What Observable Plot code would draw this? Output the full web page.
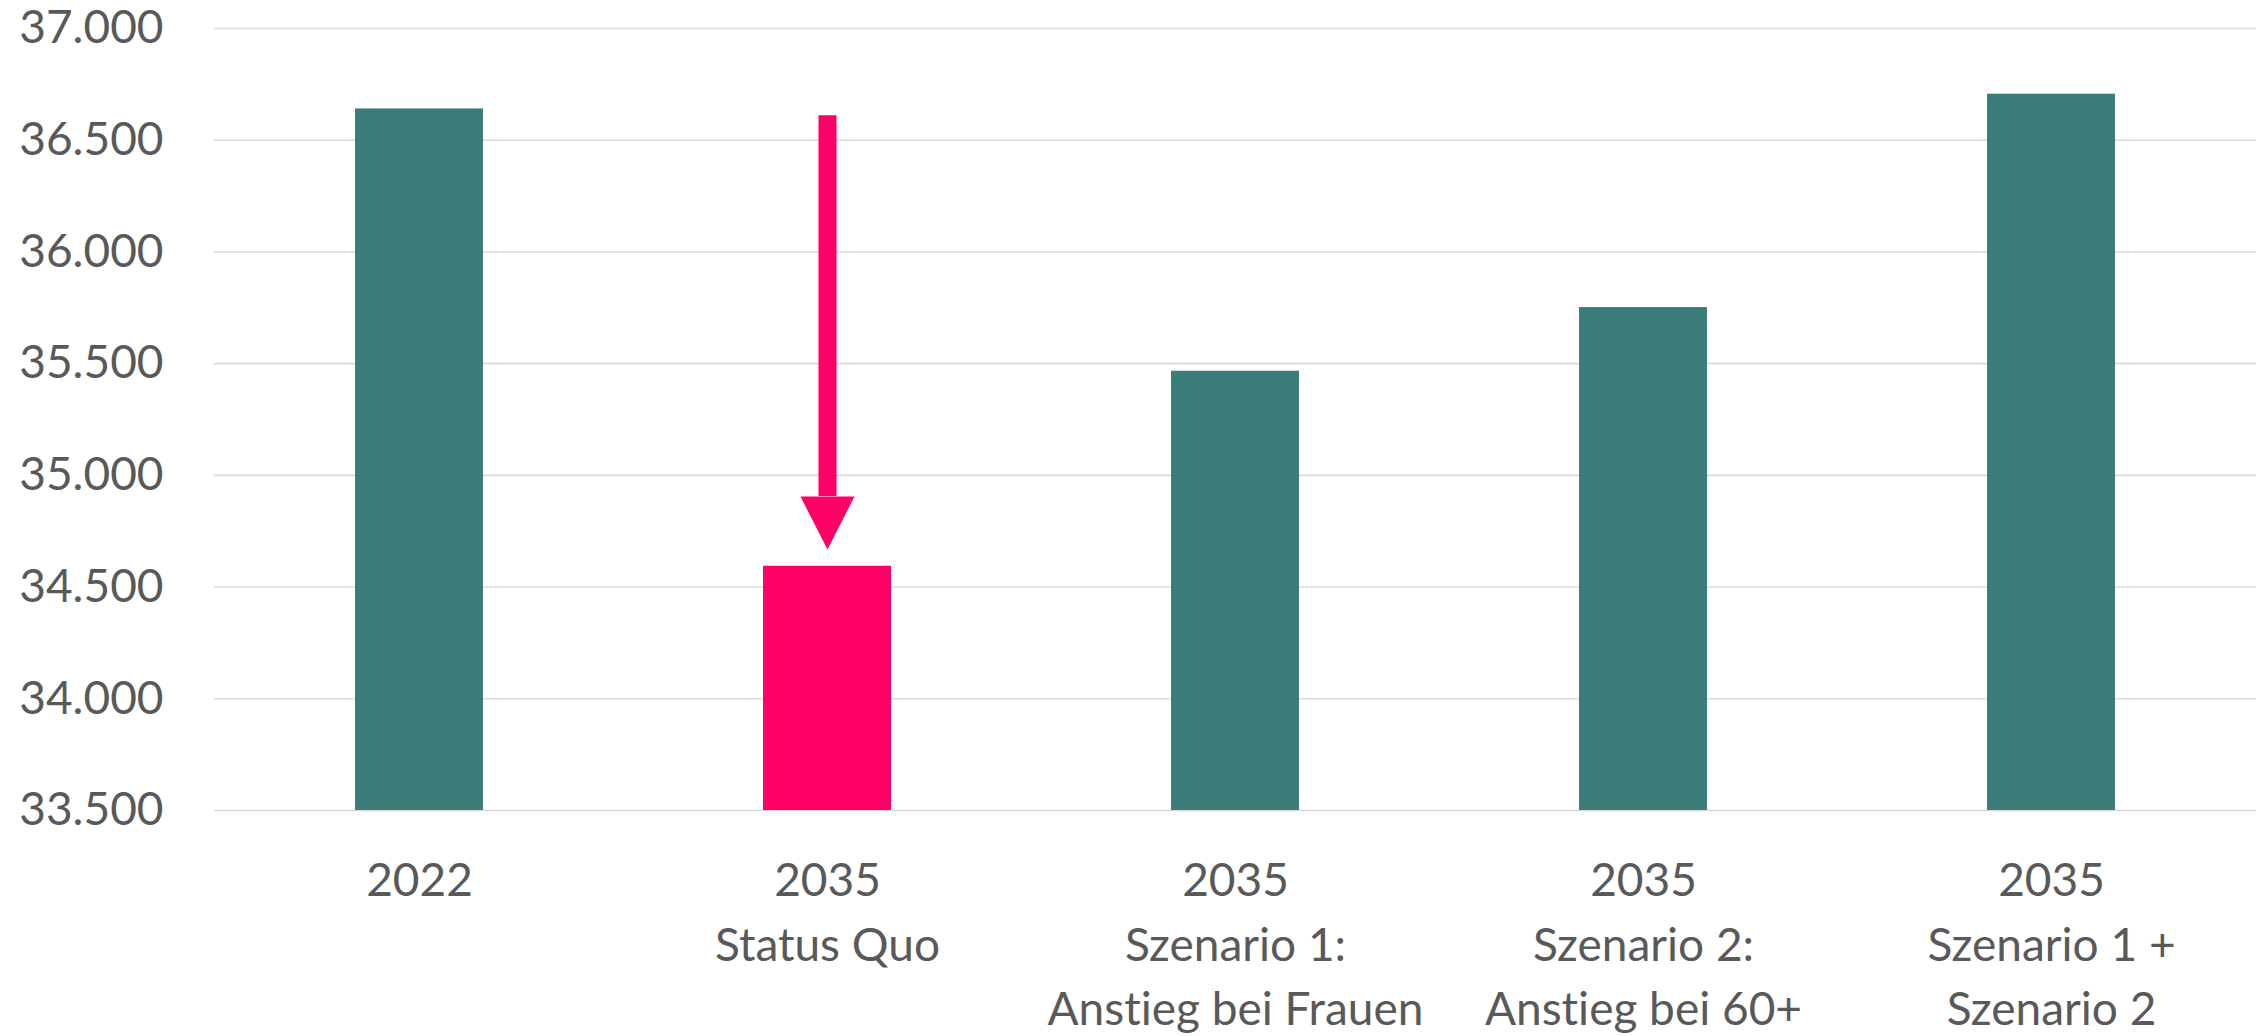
<!DOCTYPE html>
<html>
<head>
<meta charset="utf-8">
<script src="https://cdn.jsdelivr.net/npm/d3@7"></script>
<script src="https://cdn.jsdelivr.net/npm/@observablehq/plot@0.6"></script>
<style>
  html, body { margin: 0; padding: 0; background: #ffffff; }
  #chart svg { display: block; font-variant-ligatures: none; }
</style>
</head>
<body>
<div id="chart"></div>
<script>
// ---- data ----
const categories = [
  "2022",
  "2035\nStatus Quo",
  "2035\nSzenario 1:\nAnstieg bei Frauen",
  "2035\nSzenario 2:\nAnstieg bei 60+",
  "2035\nSzenario 1 +\nSzenario 2"
];
const values = [36640, 34593, 35466, 35751, 36706];
const highlighted = [false, true, false, false, false];
const yTicks = [33500, 34000, 34500, 35000, 35500, 36000, 36500, 37000];
const arrowCategory = "2035\nStatus Quo";
const arrowFrom = 36610;
const arrowHeadBase = 34905;

// ---- styles ----
const teal = "#3b7d79";
const pink = "#ff0066";
const textColor = "#595959";
const gridColor = "#d9d9d9";

const rows = categories.map((c, i) => ({category: c, value: values[i], highlight: highlighted[i]}));
const arrowRows = [{category: arrowCategory, from: arrowFrom, headBase: arrowHeadBase}];

const de = d3.formatLocale({decimal: ",", thousands: ".", grouping: [3], currency: ["", " €"]});
const fmt = de.format(",d");

const downTriangle = {
  draw(ctx, size) {
    const s = Math.sqrt(size);
    ctx.moveTo(-s / 2, 0);
    ctx.lineTo(s / 2, 0);
    ctx.lineTo(0, s * 0.98);
    ctx.closePath();
  }
};

const chart = Plot.plot({
  width: 2256,
  height: 1036,
  marginLeft: 214,
  marginRight: 0,
  marginTop: 28,
  marginBottom: 226,
  style: {fontFamily: "Lato, 'Open Sans', sans-serif", fontSize: "46px", color: textColor, background: "#ffffff"},
  x: {domain: categories, paddingInner: 0.687, paddingOuter: 0.3435, axis: null},
  y: {domain: [yTicks[0], yTicks[yTicks.length - 1]], axis: null},
  color: {domain: [false, true], range: [teal, pink]},
  marks: [
    Plot.gridY(yTicks, {stroke: gridColor, strokeOpacity: 1, strokeWidth: 1.6}),
    Plot.axisY(yTicks, {tickSize: 0, tickPadding: 51, tickFormat: fmt, label: null, fill: textColor, fontSize: 46}),
    Plot.barY(rows, {x: "category", y1: yTicks[0], y2: "value", fill: "highlight"}),
    Plot.text(rows, {x: "category", text: "category", frameAnchor: "bottom", lineAnchor: "top", dy: 40, lineHeight: 1.4, fill: textColor, fontSize: 46}),
    Plot.ruleX(arrowRows, {x: "category", y1: "from", y2: "headBase", stroke: pink, strokeWidth: 18}),
    Plot.dot(arrowRows, {x: "category", y: "headBase", r: 30.47, symbol: downTriangle, fill: pink, stroke: "none"})
  ]
});
document.getElementById("chart").appendChild(chart);
</script>
</body>
</html>
